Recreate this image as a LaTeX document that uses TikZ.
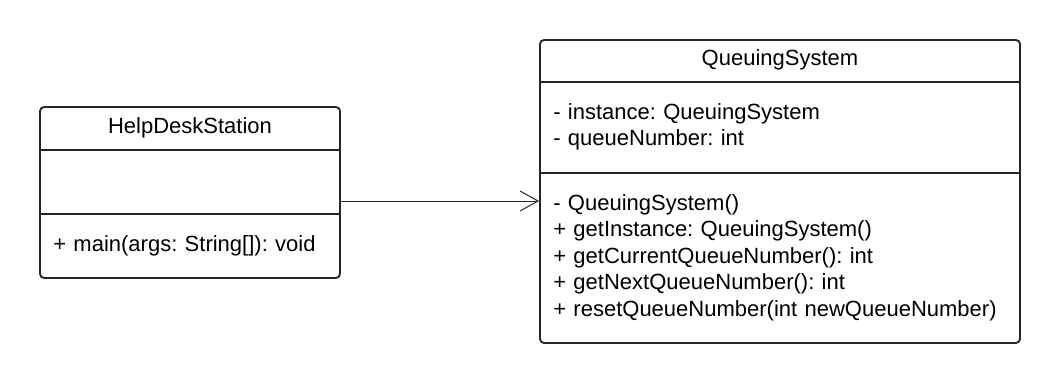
\documentclass[tikz,border=0pt]{standalone}
\usepackage{fontspec}
\setmainfont{Liberation Sans}
\usetikzlibrary{arrows.meta}
\definecolor{umlline}{RGB}{38,38,38}
\newcommand{\umlfont}{\fontsize{15.65}{18.9}\selectfont\frenchspacing}

\begin{document}
\begin{tikzpicture}[x=0.025cm, y=0.025cm,
    classbox/.style={draw=umlline, rounded corners=3pt, line width=1.3pt, inner sep=0pt},
    classname/.style={anchor=base, inner sep=0pt, font=\umlfont},
    members/.style={anchor=base west, inner sep=0pt, text width=11.6cm, align=left, font=\umlfont},
    divider/.style={draw=umlline, line width=1.3pt}
  ]
  \useasboundingbox (0,0) rectangle (1060,384);

  % client class
  \node[classbox, minimum width=7.5cm, minimum height=4.275cm] (hds) at (190,191.5) {};
  \node[classname] (hdsname) at (190,250.7) {HelpDeskStation};
  \draw[divider] (40,234) -- (340,234);
  \draw[divider] (40,170) -- (340,170);
  \node[members] (hdsops) at (53,132.3) {+ main(args: String[]): void};

  % singleton class
  \node[classbox, minimum width=12cm, minimum height=7.575cm] (qs) at (780,192.5) {};
  \node[classname] (qsname) at (780,319) {QueuingSystem};
  \draw[divider] (540,302) -- (1020,302);
  \draw[divider] (540,211) -- (1020,211);
  \node[members] (qsattr) at (553,265) {- instance: QueuingSystem\\
    - queueNumber: int};
  \node[members] (qsops) at (553,174) {- QueuingSystem()\\
    + getInstance: QueuingSystem()\\
    + getCurrentQueueNumber(): int\\
    + getNextQueueNumber(): int\\
    + resetQueueNumber(int newQueueNumber)};

  % association
  \coordinate (link) at (0,183);
  \draw[umlline, line width=0.7pt, -{Straight Barb[length=0.45cm, width=0.5cm]}]
    (hds.east |- link) -- (qs.west |- link);
\end{tikzpicture}
\end{document}
